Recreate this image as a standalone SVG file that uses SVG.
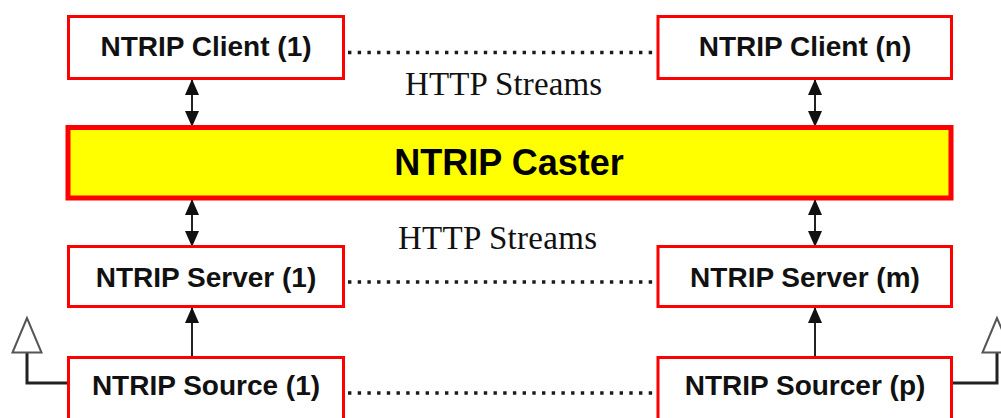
<svg xmlns="http://www.w3.org/2000/svg" width="1001" height="418" viewBox="0 0 1001 418">
  <style>
    .box { fill: #ffffff; stroke: #ff0000; stroke-width: 3; }
    .caster { fill: #ffff00; stroke: #ff0000; stroke-width: 5; }
    .lbl { font-family: "Liberation Sans", Arial, sans-serif; font-weight: bold; font-size: 28px; fill: #111; text-anchor: middle; }
    .big { font-family: "Liberation Sans", Arial, sans-serif; font-weight: bold; font-size: 36px; fill: #000; text-anchor: middle; }
    .note { font-family: "Liberation Serif", "Times New Roman", serif; font-size: 33px; fill: #111; }
    .dots { stroke: #1a1a1a; stroke-width: 3.4; stroke-dasharray: 3.4 6.3; fill: none; }
    .link { stroke: #222; stroke-width: 2; fill: none; }
    .loop { stroke: #222; stroke-width: 3; fill: none; }
    .tri { fill: #ffffff; stroke: #555; stroke-width: 2; stroke-linejoin: miter; }
  </style>
  <defs>
    <marker id="head" viewBox="0 0 16 14" refX="15" refY="7" markerWidth="16" markerHeight="14" markerUnits="userSpaceOnUse" orient="auto-start-reverse">
      <path d="M0,0 L16,7 L0,14 Z" fill="#111"/>
    </marker>
  </defs>

  <rect width="1001" height="418" fill="#ffffff"/>

  <g id="connectors">
    <!-- dotted peer lines -->
    <line class="dots" x1="348" y1="52.5" x2="655" y2="52.5"/>
    <line class="dots" x1="348" y1="282" x2="655" y2="282"/>
    <line class="dots" x1="348" y1="393" x2="655" y2="393"/>
    <!-- client / caster streams -->
    <line class="link" x1="192" y1="80" x2="192" y2="126" marker-start="url(#head)" marker-end="url(#head)"/>
    <line class="link" x1="815" y1="80" x2="815" y2="126" marker-start="url(#head)" marker-end="url(#head)"/>
    <!-- caster / server streams -->
    <line class="link" x1="192" y1="200" x2="192" y2="246" marker-start="url(#head)" marker-end="url(#head)"/>
    <line class="link" x1="815" y1="200" x2="815" y2="246" marker-start="url(#head)" marker-end="url(#head)"/>
    <!-- source to server -->
    <line class="link" x1="192" y1="356" x2="192" y2="308" marker-end="url(#head)"/>
    <line class="link" x1="815" y1="356" x2="815" y2="308" marker-end="url(#head)"/>
    <!-- source feeds -->
    <polyline class="loop" points="67,383 27,383 27,352"/>
    <polygon class="tri" points="27,318 12.5,352.5 41.5,352.5"/>
    <polyline class="loop" points="953,383 997,383 997,352"/>
    <polygon class="tri" points="997,318 982.5,352.5 1011.5,352.5"/>
  </g>

  <text class="note" x="405" y="94.5" textLength="197">HTTP Streams</text>
  <text class="note" x="398" y="249" textLength="199">HTTP Streams</text>

  <g id="client-1">
    <rect class="box" x="68.5" y="16.5" width="275" height="62"/>
    <text class="lbl" x="206" y="56">NTRIP Client (1)</text>
  </g>
  <g id="client-n">
    <rect class="box" x="658" y="16.5" width="293.5" height="62"/>
    <text class="lbl" x="805" y="56">NTRIP Client (n)</text>
  </g>
  <g id="caster">
    <rect class="caster" x="68" y="127.5" width="883" height="70.5"/>
    <text class="big" x="509" y="175">NTRIP Caster</text>
  </g>
  <g id="server-1">
    <rect class="box" x="68.5" y="246.5" width="275" height="60"/>
    <text class="lbl" x="206" y="287">NTRIP Server (1)</text>
  </g>
  <g id="server-m">
    <rect class="box" x="658" y="246.5" width="293.5" height="60"/>
    <text class="lbl" x="805" y="287">NTRIP Server (m)</text>
  </g>
  <g id="source-1">
    <rect class="box" x="68.5" y="357.5" width="275" height="70"/>
    <text class="lbl" x="206" y="395">NTRIP Source (1)</text>
  </g>
  <g id="sourcer-p">
    <rect class="box" x="658" y="357.5" width="293.5" height="70"/>
    <text class="lbl" x="805" y="395">NTRIP Sourcer (p)</text>
  </g>
</svg>
